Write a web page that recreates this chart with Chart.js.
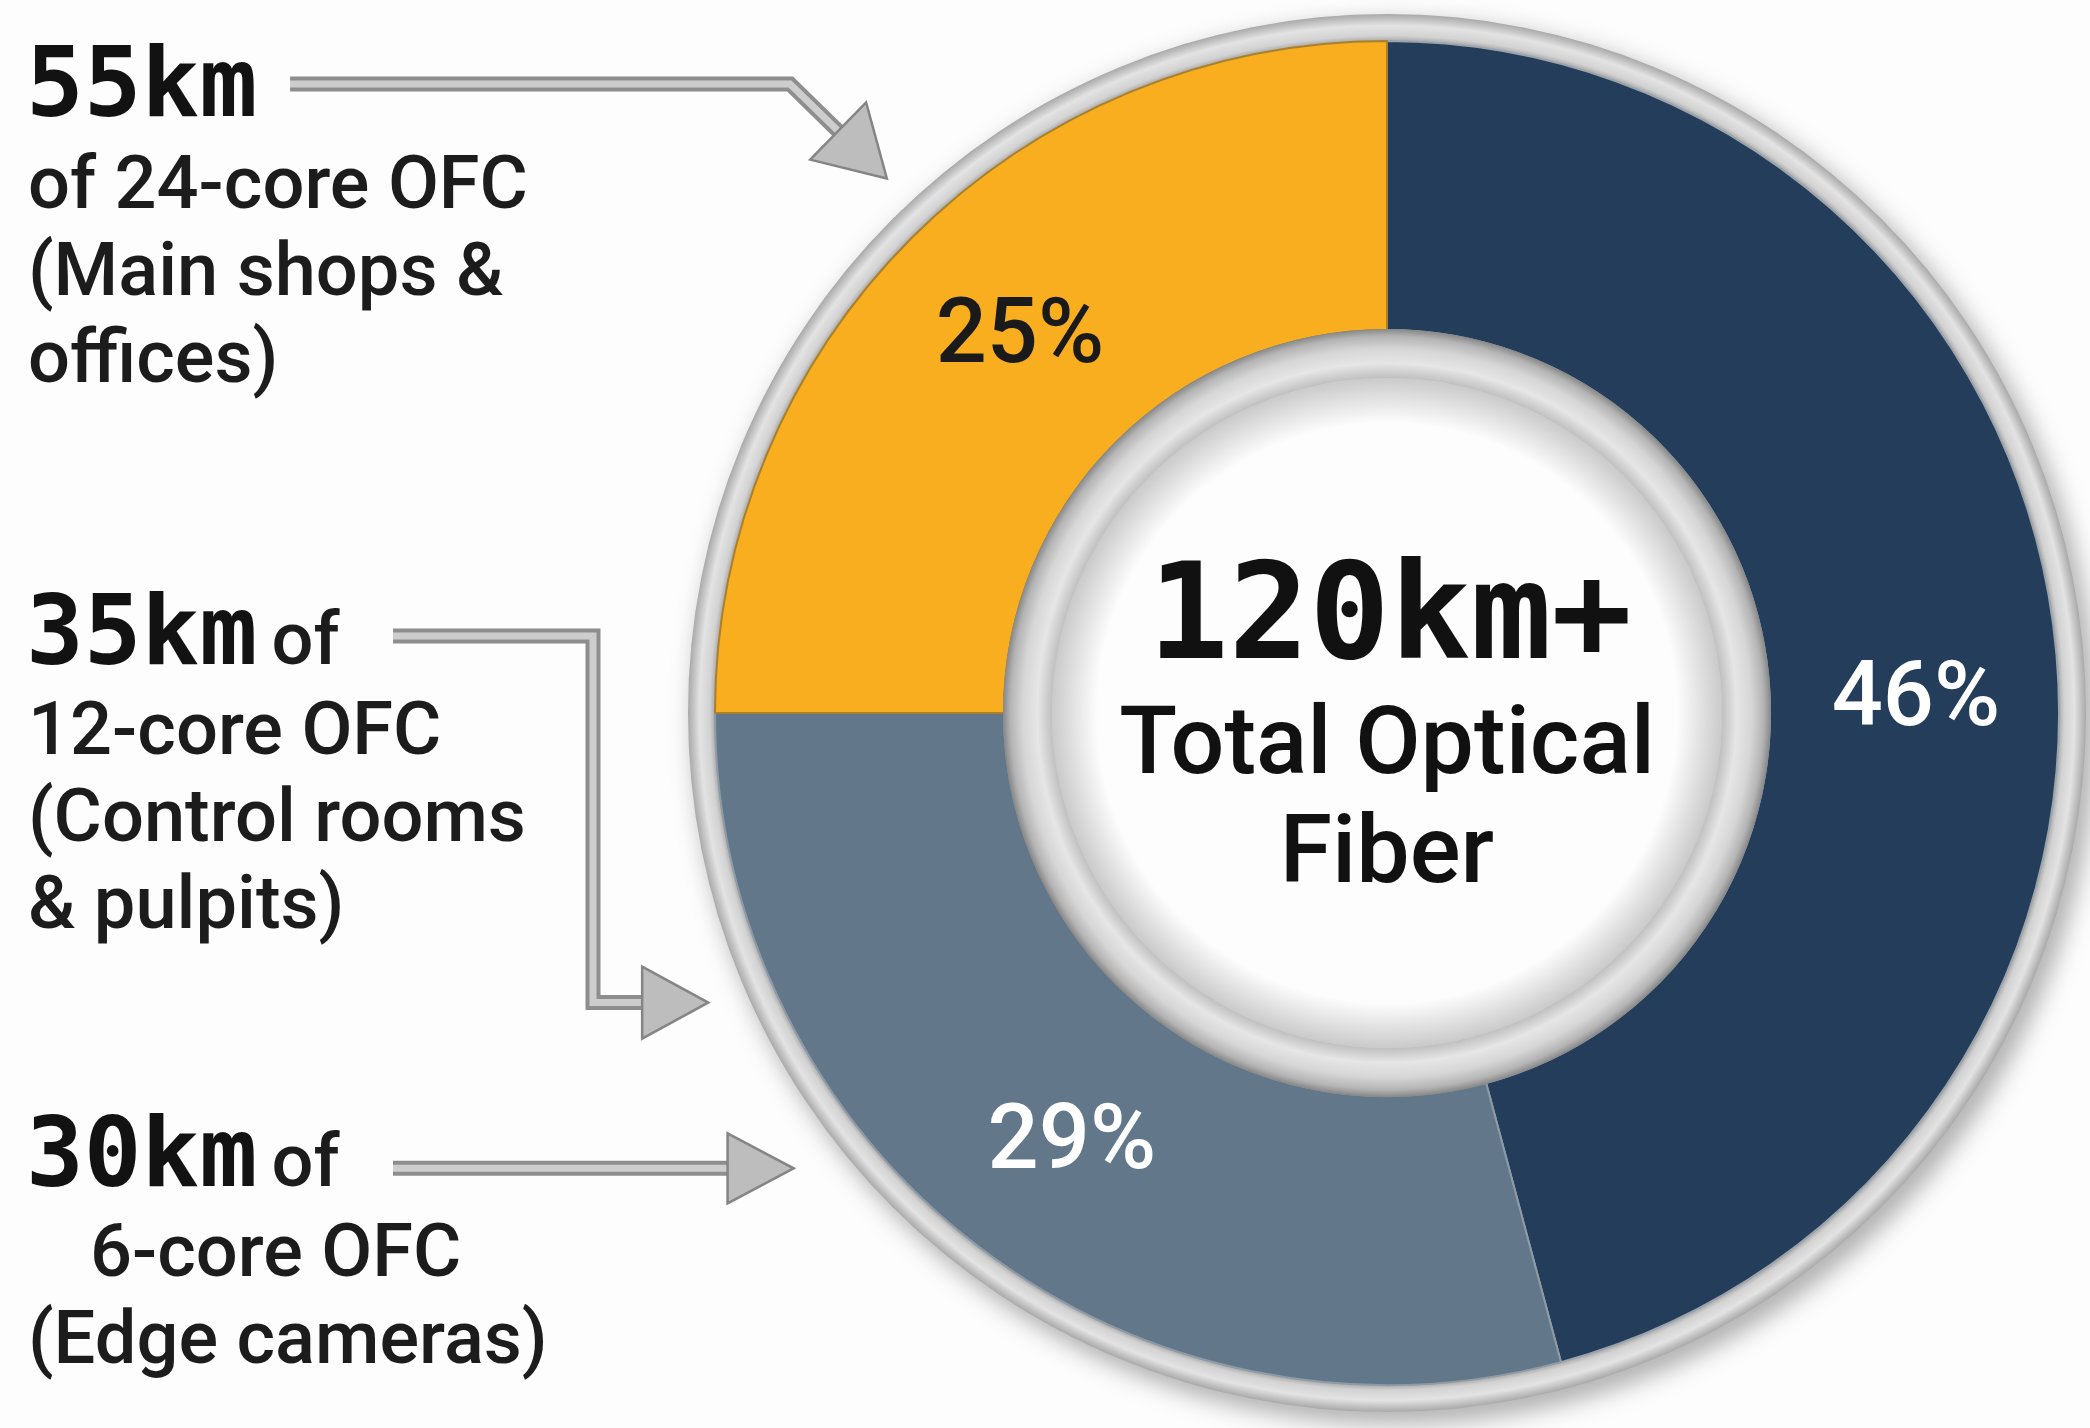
<!DOCTYPE html>
<html>
<head>
<meta charset="utf-8">
<script src="https://cdn.jsdelivr.net/npm/chart.js@4.4.1/dist/chart.umd.min.js"></script>
<style>
  html, body { margin: 0; padding: 0; background: #fdfdfd; }
  #wrap { width: 2090px; height: 1428px; position: relative; }
</style>
</head>
<body>
<div id="wrap"><canvas id="fiberChart"></canvas></div>
<script>
// Cable length (km) by core type
const cableTypes = ["24-core OFC", "12-core OFC", "6-core OFC"];
const cableKm = [55, 35, 30];
const sliceColors = ["#233d5a", "#627789", "#f8ae1e"];
const sliceBorders = ["#9ba4ad", "#8e9aa5", "#a9802c"];
const labelColors = ["#ffffff", "#ffffff", "#1a1a1a"];

// Left-hand callouts
const calloutKm = ["55km", "35km", "30km"];
const calloutSuffix = ["", " of", " of"];
const calloutLines = [
  ["of 24-core OFC", "(Main shops &", "offices)"],
  ["12-core OFC", "(Control rooms", "& pulpits)"],
  ["6-core OFC", "(Edge cameras)"],
];
const centerLines = ["Total Optical", "Fiber"];

const MONO = '"DejaVu Sans Mono", "Liberation Mono", monospace';
const SANS = 'Roboto, "Noto Sans", sans-serif';

function ring(ctx, x, y, rOut, rIn) {
  ctx.beginPath();
  ctx.arc(x, y, rOut, 0, Math.PI * 2);
  ctx.arc(x, y, rIn, 0, Math.PI * 2, true);
  ctx.closePath();
}

function drawArrow(ctx, pts, headLen, headHalf) {
  const n = pts.length;
  const [tx, ty] = pts[n - 1];
  const [px, py] = pts[n - 2];
  const ang = Math.atan2(ty - py, tx - px);
  const bx = tx - Math.cos(ang) * headLen;
  const by = ty - Math.sin(ang) * headLen;

  ctx.lineJoin = "miter";
  ctx.lineCap = "butt";
  ctx.beginPath();
  ctx.moveTo(pts[0][0], pts[0][1]);
  for (let i = 1; i < n - 1; i++) ctx.lineTo(pts[i][0], pts[i][1]);
  ctx.lineTo(bx + Math.cos(ang) * 4, by + Math.sin(ang) * 4);
  ctx.strokeStyle = "#8e8e8e";
  ctx.lineWidth = 15;
  ctx.stroke();
  ctx.strokeStyle = "#cdcdcd";
  ctx.lineWidth = 7;
  ctx.stroke();

  const nx = Math.cos(ang + Math.PI / 2) * headHalf;
  const ny = Math.sin(ang + Math.PI / 2) * headHalf;
  ctx.beginPath();
  ctx.moveTo(tx, ty);
  ctx.lineTo(bx + nx, by + ny);
  ctx.lineTo(bx - nx, by - ny);
  ctx.closePath();
  ctx.fillStyle = "#bdbdbd";
  ctx.fill();
  ctx.strokeStyle = "#858585";
  ctx.lineWidth = 2.5;
  ctx.stroke();
}

const decorPlugin = {
  id: "decor",
  beforeDatasetsDraw(chart) {
    const { x, y, outerRadius } = chart.getDatasetMeta(0).data[0];
    const ctx = chart.ctx;
    const r0 = outerRadius - 2, r1 = outerRadius + 27;
    ctx.save();
    ctx.shadowColor = "rgba(0,0,0,0.35)";
    ctx.shadowBlur = 26;
    ctx.shadowOffsetX = 8;
    ctx.shadowOffsetY = 10;
    const g = ctx.createRadialGradient(x, y, r0, x, y, r1);
    g.addColorStop(0, "#9a9a9a");
    g.addColorStop(0.25, "#d2d2d2");
    g.addColorStop(0.6, "#e3e3e3");
    g.addColorStop(1, "#a9a9a9");
    ctx.fillStyle = g;
    ring(ctx, x, y, r1, r0);
    ctx.fill();
    ctx.restore();
  },
  afterDatasetsDraw(chart) {
    const meta = chart.getDatasetMeta(0);
    const { x, y, innerRadius } = meta.data[0];
    const ctx = chart.ctx;
    const rb = innerRadius - 48;
    ctx.save();
    // metallic bevel around the hole
    const g = ctx.createRadialGradient(x, y, rb, x, y, innerRadius + 1);
    g.addColorStop(0, "#c0c0c0");
    g.addColorStop(0.3, "#e6e6e6");
    g.addColorStop(0.6, "#d6d6d6");
    g.addColorStop(0.85, "#b4b4b4");
    g.addColorStop(1, "#878787");
    ctx.fillStyle = g;
    ring(ctx, x, y, innerRadius + 1, rb);
    ctx.fill();
    // soft inner shadow
    const s = ctx.createRadialGradient(x, y, rb - 45, x, y, rb);
    s.addColorStop(0, "rgba(0,0,0,0)");
    s.addColorStop(1, "rgba(0,0,0,0.2)");
    ctx.fillStyle = s;
    ctx.beginPath();
    ctx.arc(x, y, rb, 0, Math.PI * 2);
    ctx.fill();

    // percentage labels (first one sits a little lower, as in the source)
    const total = cableKm.reduce((a, b) => a + b, 0);
    const nudgeY = [58, 14, 0];
    ctx.font = "500 90px " + SANS;
    ctx.textAlign = "center";
    ctx.textBaseline = "middle";
    meta.data.forEach((arc, i) => {
      const p = arc.tooltipPosition();
      ctx.fillStyle = labelColors[i];
      ctx.fillText(Math.round((cableKm[i] / total) * 100) + "%", p.x + 6, p.y + nudgeY[i]);
    });
    ctx.restore();
  },
  afterDraw(chart) {
    const { x, y, outerRadius } = chart.getDatasetMeta(0).data[0];
    const ctx = chart.ctx;
    const total = cableKm.reduce((a, b) => a + b, 0);
    ctx.save();

    // center text
    ctx.textAlign = "center";
    ctx.textBaseline = "alphabetic";
    ctx.fillStyle = "#111111";
    ctx.font = "bold 134px " + MONO;
    ctx.fillText(total + "km+", x + 3, y - 55);
    ctx.font = "500 95px " + SANS;
    ctx.fillText(centerLines[0], x, y + 60);
    ctx.fillText(centerLines[1], x, y + 169);

    // callout text
    const groupTop = [116, 664, 1186];
    const lineGap = 87;
    ctx.textAlign = "left";
    calloutKm.forEach((km, i) => {
      const base = groupTop[i];
      ctx.fillStyle = "#121212";
      ctx.font = "bold 96px " + MONO;
      ctx.fillText(km, 26, base);
      const w = ctx.measureText(km).width;
      ctx.font = "500 74px " + SANS;
      ctx.fillStyle = "#1c1c1c";
      if (calloutSuffix[i]) ctx.fillText(calloutSuffix[i], 26 + w - 4, base);
      calloutLines[i].forEach((line, j) => {
        const indent = i === 2 && j === 0 ? 90 : 28;
        const firstGap = i === 0 ? 92 : 90;
        ctx.fillText(line, indent, base + firstGap + j * lineGap);
      });
    });

    // arrows, tips placed just outside the ring
    const tip = (deg, dist) => {
      const a = (deg * Math.PI) / 180;
      return [x + Math.sin(a) * (outerRadius + dist), y - Math.cos(a) * (outerRadius + dist)];
    };
    const t1 = tip(316.9, 60);
    const t2 = tip(246.9, 66);
    const t3 = tip(232.5, 76);
    drawArrow(ctx, [[290, 84], [790, 84], t1], 68, 40);
    drawArrow(ctx, [[393, 636], [593, 636], [593, t2[1]], t2], 66, 36);
    drawArrow(ctx, [[393, t3[1]], t3], 66, 35);

    ctx.restore();
  },
};

const ctx = document.getElementById("fiberChart").getContext("2d");
new Chart(ctx, {
  type: "doughnut",
  data: {
    labels: cableTypes,
    datasets: [
      {
        data: cableKm,
        backgroundColor: sliceColors,
        borderColor: sliceBorders,
        borderWidth: 2,
      },
    ],
  },
  options: {
    responsive: true,
    maintainAspectRatio: false,
    animation: false,
    events: [],
    cutout: "57%",
    layout: {
      padding: { left: 714, right: 30, top: 40, bottom: 42 },
    },
    plugins: {
      legend: { display: false },
      tooltip: { enabled: false },
    },
  },
  plugins: [decorPlugin],
});
</script>
</body>
</html>
